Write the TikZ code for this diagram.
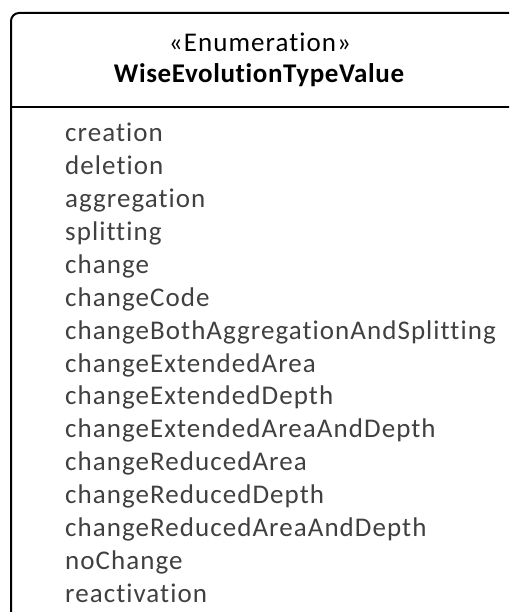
\documentclass[tikz,border=0pt]{standalone}
\usepackage{fontspec}
\setmainfont{Carlito}[LetterSpace=3.9,Ligatures={NoCommon}]
\usetikzlibrary{positioning}
\definecolor{itemGray}{HTML}{404040}
\tikzset{
    boxline/.style={draw=black,line width=2pt},
    stereo/.style={font=\fontsize{27}{32}\selectfont,anchor=base,inner sep=0pt},
    enumname/.style={font=\fontsize{27}{32}\selectfont\bfseries\addfontfeature{LetterSpace=2.3},
        anchor=base,inner sep=0pt},
    literal/.style={font=\fontsize{27}{32}\selectfont,text=itemGray,anchor=base west,inner sep=0pt}
}
\begin{document}
\begin{tikzpicture}[x=1pt,y=1pt]
    \useasboundingbox (0,0) rectangle (509,-612);
    \clip (0,0) rectangle (509,-612);
    \draw[boxline,rounded corners=8pt] (11,-620) -- (11,-13) -- (520,-13);
    \draw[boxline] (11,-107) -- (520,-107);
    \node[stereo] (stereo) at (260,-52) {«Enumeration»};
    \node[enumname] (enumname) at (259,-83) {WiseEvolutionTypeValue};
    \foreach \lit [count=\i from 0] in {creation,deletion,aggregation,splitting,change,changeCode,
        changeBothAggregationAndSplitting,changeExtendedArea,changeExtendedDepth,
        changeExtendedAreaAndDepth,changeReducedArea,changeReducedDepth,
        changeReducedAreaAndDepth,noChange,reactivation}
        \node[literal] (lit\i) at (65,{-142-32.86*\i}) {\lit};
\end{tikzpicture}
\end{document}
